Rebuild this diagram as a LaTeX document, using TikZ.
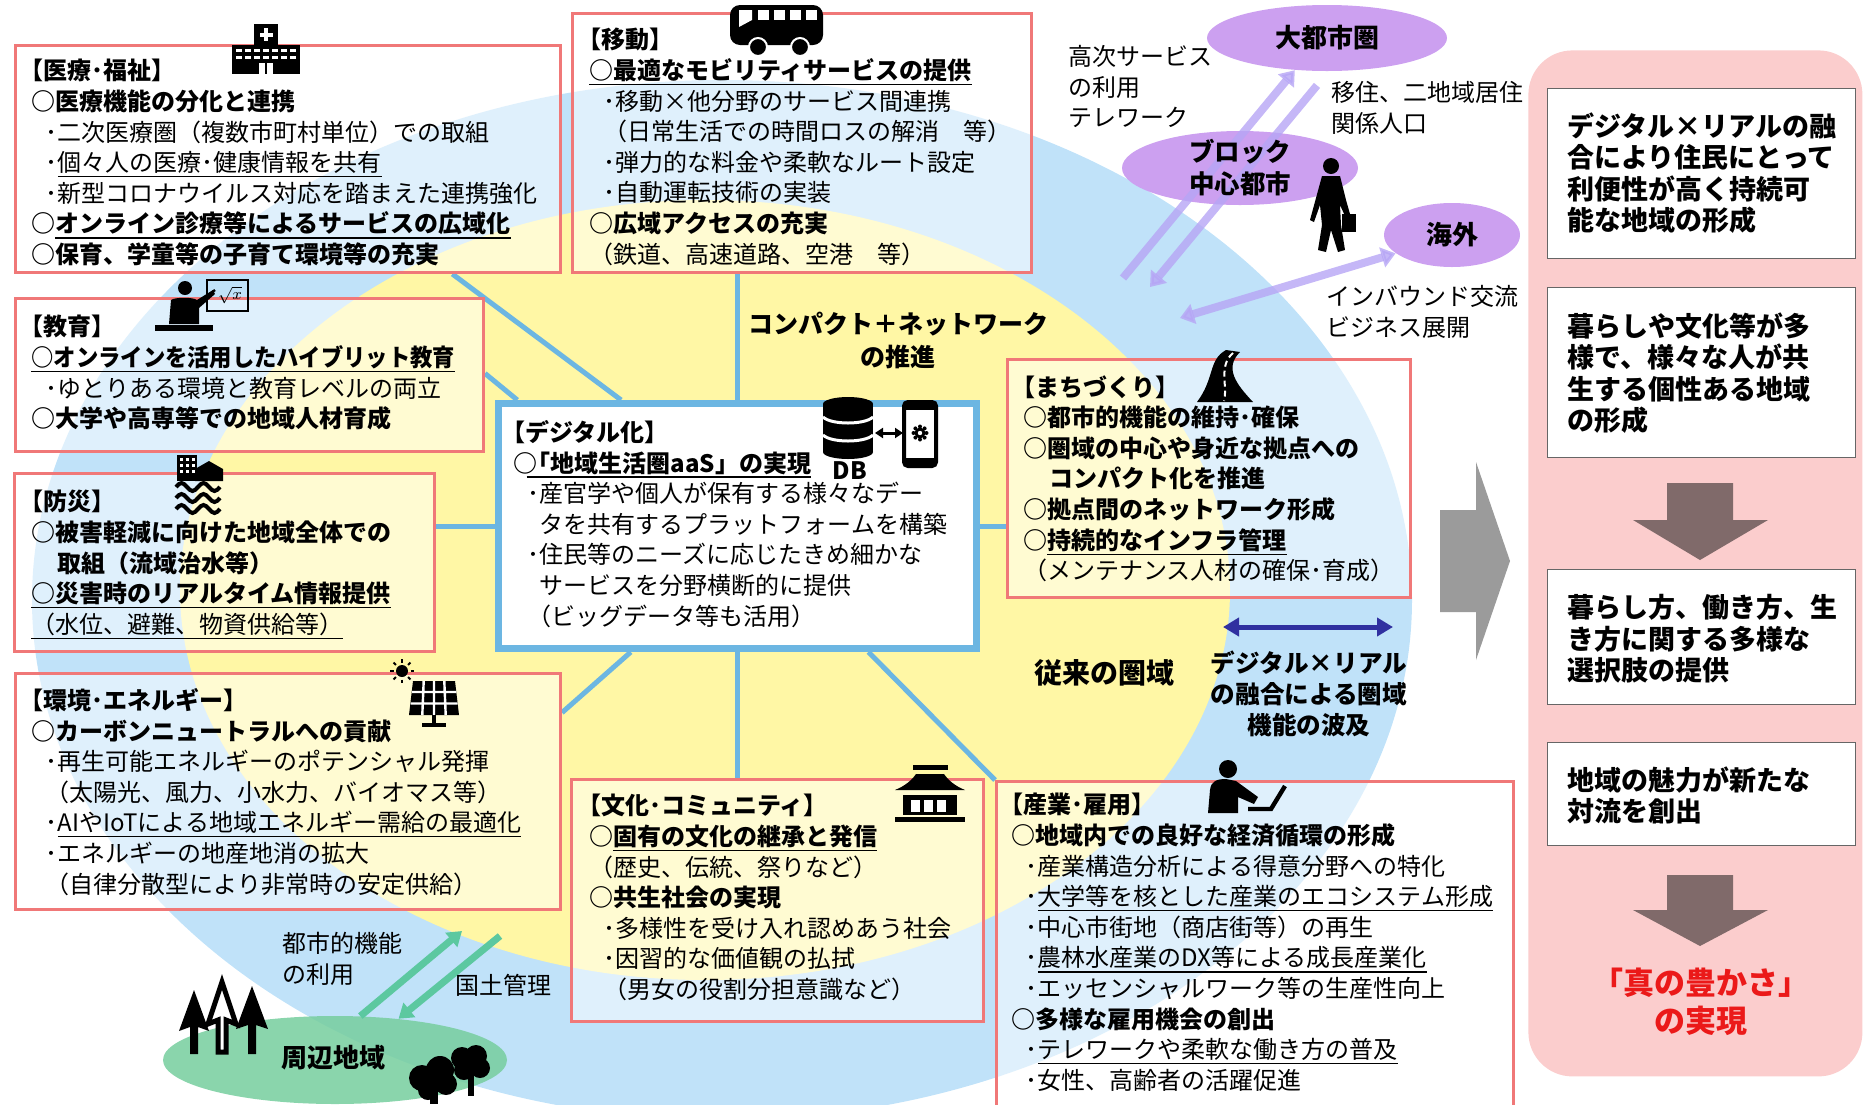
\documentclass[tikz,border=0pt]{standalone}
\usepackage{fontspec}
\setmainfont{Noto Sans CJK JP}
\usetikzlibrary{arrows.meta,calc,positioning,shapes.geometric}

\definecolor{ringblue}{RGB}{192,226,249}
\definecolor{coreyellow}{RGB}{255,247,165}
\definecolor{boxred}{RGB}{240,120,120}
\definecolor{linkblue}{RGB}{108,182,226}
\definecolor{cityviolet}{RGB}{204,160,240}
\definecolor{flowviolet}{RGB}{182,165,245}
\definecolor{fieldgreen}{RGB}{118,206,158}
\definecolor{flowgreen}{RGB}{92,200,160}
\definecolor{panelpink}{RGB}{251,205,205}
\definecolor{goalred}{RGB}{235,25,25}
\definecolor{spanblue}{RGB}{48,48,160}
\definecolor{stepgray}{RGB}{128,106,106}
\definecolor{bigarrowgray}{RGB}{155,155,155}

\newcommand{\boxfont}{\fontsize{12pt}{15.3pt}\selectfont}
\newcommand{\sidefont}{\fontsize{13.5pt}{15.75pt}\selectfont}
\newcommand{\bul}{\hspace*{0.6em}･}
\newcommand{\cont}{\hspace*{1.1em}}
\newcommand{\udl}[1]{\setbox0=\hbox{#1}\rlap{\rule[-2.8pt]{\wd0}{0.6pt}}\box0}

\pgfdeclarelayer{back}
\pgfsetlayers{back,main}

\tikzset{
  themebox/.style={draw=boxred, line width=1.5pt, fill=white, fill opacity=0.5, anchor=north west, inner sep=0pt},
  hubbox/.style={draw=linkblue, line width=3.5pt, fill=white, anchor=north west, inner sep=0pt},
  boxtext/.style={anchor=north west, inner sep=0pt, align=left, font=\boxfont},
  sidebox/.style={draw=black!60, line width=0.7pt, fill=white, anchor=north west, inner sep=0pt, minimum width=154pt},
  sidetext/.style={anchor=north west, inner sep=0pt, align=left, font=\sidefont\bfseries},
  link/.style={draw=linkblue, line width=2.5pt},
  city/.style={ellipse, fill=cityviolet, inner sep=0pt},
  citylabel/.style={inner sep=0pt, align=center, font=\bfseries\fontsize{13pt}{16pt}\selectfont},
  flowtext/.style={inner sep=0pt, align=left, anchor=north west, font=\fontsize{12pt}{15.3pt}\selectfont},
  flow/.style={draw=flowviolet, draw opacity=0.8, fill opacity=0.8, line width=4pt, -{Triangle[width=10pt,length=7pt]}},
  flowboth/.style={flow, {Triangle[width=10pt,length=7pt]}-{Triangle[width=10pt,length=7pt]}},
  greenflow/.style={draw=flowgreen, line width=3.5pt, -{Triangle[width=9pt,length=7pt]}},
  span/.style={draw=spanblue, line width=2.5pt, {Triangle[width=9pt,length=8pt]}-{Triangle[width=9pt,length=8pt]}},
}

\begin{document}
\begin{tikzpicture}[x=0.5pt,y=-0.5pt]
\useasboundingbox (0,0) rectangle (1865,1104);

% theme boxes and the hub in the middle
\node[themebox, minimum width=272.5pt, minimum height=113.5pt] (iryo) at (14,44) {};
\node[themebox, minimum width=229.5pt, minimum height=129.5pt] (idou) at (571,12) {};
\node[themebox, minimum width=234pt, minimum height=76.5pt] (kyoiku) at (14,297) {};
\node[themebox, minimum width=210pt, minimum height=89pt] (bousai) at (13,472) {};
\node[themebox, minimum width=272.5pt, minimum height=118pt] (kankyo) at (14,672) {};
\node[themebox, minimum width=206pt, minimum height=121pt] (bunka) at (570,778) {};
\node[themebox, minimum width=201.5pt, minimum height=119pt] (machi) at (1006,358) {};
\node[themebox, minimum width=258.5pt, minimum height=170pt] (sangyo) at (995,780) {};
\node[hubbox, minimum width=239pt, minimum height=122.5pt] (hub) at (495,400) {};

% rings, periphery and links
\begin{pgfonlayer}{back}
  \fill[ringblue] (722,600) ellipse (690 and 520);
  \fill[coreyellow] (705,590) ellipse (525 and 390);
  \draw[link] ($(iryo.south west)!0.80!(iryo.south east)$) -- ($(hub.north west)!0.26!(hub.north east)$);
  \draw[link] ($(kyoiku.north east)!0.49!(kyoiku.south east)$) -- ($(hub.north west)!0.046!(hub.north east)$);
  \draw[link] (hub.west) -- (hub.west -| bousai.east);
  \draw[link] (hub.north) -- (hub.north |- idou.south);
  \draw[link] (hub.east) -- (hub.east -| machi.west);
  \draw[link] ($(hub.south west)!0.28!(hub.south east)$) -- ($(kankyo.north east)!0.17!(kankyo.south east)$);
  \draw[link] (hub.south) -- (hub.south |- bunka.north);
  \draw[link] ($(hub.south west)!0.77!(hub.south east)$) -- (sangyo.north west);
\end{pgfonlayer}

\node[boxtext] (iryo-t) at ([shift={(17,15)}]iryo.north west) {%
  \textbf{\hspace*{-0.5em}【医療･福祉】}\\
  \textbf{○医療機能の分化と連携}\\
  \bul 二次医療圏（複数市町村単位）での取組\\
  \bul\udl{個々人の医療･健康情報を共有}\\
  \bul 新型コロナウイルス対応を踏まえた連携強化\\
  \textbf{○\udl{オンライン診療等によるサービスの広域化}}\\
  \textbf{○保育、学童等の子育て環境等の充実}};
\node[boxtext] (idou-t) at ([shift={(18,16)}]idou.north west) {%
  \textbf{\hspace*{-0.5em}【移動】}\\
  \textbf{\udl{○最適なモビリティサービスの提供}}\\
  \bul 移動×他分野のサービス間連携\\
  \hspace*{0.6em}（日常生活での時間ロスの解消　等）\\
  \bul 弾力的な料金や柔軟なルート設定\\
  \bul 自動運転技術の実装\\
  \textbf{○広域アクセスの充実}\\
  （鉄道、高速道路、空港　等）};
\node[boxtext] (kyoiku-t) at ([shift={(17,18)}]kyoiku.north west) {%
  \textbf{\hspace*{-0.5em}【教育】}\\
  \textbf{\scalebox{0.93}[1]{\udl{○オンラインを活用したハイブリット教育}}}\\
  \bul ゆとりある環境と教育レベルの両立\\
  \textbf{○大学や高専等での地域人材育成}};
\node[boxtext] (bousai-t) at ([shift={(18,18)}]bousai.north west) {%
  \textbf{\hspace*{-0.5em}【防災】}\\
  \textbf{○被害軽減に向けた地域全体での}\\
  \textbf{\cont 取組（流域治水等）}\\
  \textbf{\udl{○災害時のリアルタイム情報提供}}\\
  \udl{（水位、避難、物資供給等）}};
\node[boxtext] (kankyo-t) at ([shift={(17,16)}]kankyo.north west) {%
  \textbf{\hspace*{-0.5em}【環境･エネルギー】}\\
  \textbf{○カーボンニュートラルへの貢献}\\
  \bul 再生可能エネルギーのポテンシャル発揮\\
  \hspace*{0.6em}（太陽光、風力、小水力、バイオマス等）\\
  \bul\udl{AIやIoTによる地域エネルギー需給の最適化}\\
  \bul エネルギーの地産地消の拡大\\
  \hspace*{0.6em}（自律分散型により非常時の安定供給）};
\node[boxtext] (bunka-t) at ([shift={(19,16)}]bunka.north west) {%
  \textbf{\hspace*{-0.5em}【文化･コミュニティ】}\\
  \textbf{○\udl{固有の文化の継承と発信}}\\
  （歴史、伝統、祭りなど）\\
  \textbf{○共生社会の実現}\\
  \bul 多様性を受け入れ認めあう社会\\
  \bul 因習的な価値観の払拭\\
  \hspace*{0.6em}（男女の役割分担意識など）};
\node[boxtext] (machi-t) at ([shift={(17,17)}]machi.north west) {%
  \textbf{\hspace*{-0.5em}【まちづくり】}\\
  \textbf{○都市的機能の維持･確保}\\
  \textbf{○圏域の中心や身近な拠点への}\\
  \textbf{\cont コンパクト化を推進}\\
  \textbf{○拠点間のネットワーク形成}\\
  \textbf{○\udl{持続的なインフラ管理}}\\
  （メンテナンス人材の確保･育成）};
\node[boxtext] (sangyo-t) at ([shift={(16,13)}]sangyo.north west) {%
  \textbf{\hspace*{-0.5em}【産業･雇用】}\\
  \textbf{○地域内での良好な経済循環の形成}\\
  \bul 産業構造分析による得意分野への特化\\
  \bul\udl{大学等を核とした産業のエコシステム形成}\\
  \bul 中心市街地（商店街等）の再生\\
  \bul\udl{農林水産業のDX等による成長産業化}\\
  \bul エッセンシャルワーク等の生産性向上\\
  \textbf{○多様な雇用機会の創出}\\
  \bul\udl{テレワークや柔軟な働き方の普及}\\
  \bul 女性、高齢者の活躍促進};
\node[boxtext] (hub-t) at ([shift={(18,20)}]hub.north west) {%
  \textbf{\hspace*{-0.5em}【デジタル化】}\\
  \textbf{○\hspace*{-0.45em}\udl{「地域生活圏aaS」の実現}}\\
  \bul 産官学や個人が保有する様々なデー\\
  \cont タを共有するプラットフォームを構築\\
  \bul 住民等のニーズに応じたきめ細かな\\
  \cont サービスを分野横断的に提供\\
  \hspace*{0.6em}（ビッグデータ等も活用）};

% ring captions
\node[align=center, inner sep=0pt, anchor=north, font=\bfseries\fontsize{12.5pt}{16.5pt}\selectfont] (compact) at (898,312) {コンパクト＋ネットワーク\\の推進};
\node[inner sep=0pt, font=\bfseries\fontsize{14pt}{16pt}\selectfont] (oldarea) at (1104,673) {従来の圏域};
\node[align=center, inner sep=0pt, anchor=north, font=\bfseries\fontsize{12.3pt}{15.7pt}\selectfont] (spread) at (1309,650) {デジタル×リアル\\の融合による圏域\\機能の波及};
\coordinate (spanL) at (1223,627);
\coordinate (spanR) at (1393,627);
\draw[span] (spanL) -- (spanR);

% cities outside the ring
\node[city, minimum width=120pt, minimum height=33pt] (metro) at (1327,38) {};
\node[city, minimum width=118pt, minimum height=37pt] (block) at (1240,168) {};
\node[city, minimum width=68pt, minimum height=32pt] (abroad) at (1452,235) {};
\coordinate (upfoot) at (1123,278);
\coordinate (downfoot) at (1150,287);
\coordinate (inboundfoot) at (1180,318);
\draw[flow] (upfoot) -- (metro.225);
\draw[flow] ([shift={(-10,14)}]metro.south) -- (downfoot);
\draw[flowboth] (inboundfoot) -- (abroad.198);
\node[citylabel] (metro-t) at (metro) {大都市圏};
\node[citylabel, font=\bfseries\fontsize{12.75pt}{16pt}\selectfont] (block-t) at (block) {ブロック\\中心都市};
\node[citylabel] (abroad-t) at (abroad) {海外};
\node[flowtext] (service) at (1068,45) {高次サービス\\の利用\\テレワーク};
\node[flowtext] (migrate) at (1331,81) {移住、二地域居住\\関係人口};
\node[flowtext] (inbound) at (1326,285) {インバウンド交流\\ビジネス展開};

% periphery
\node[ellipse, fill=fieldgreen, fill opacity=0.85, minimum width=172pt, minimum height=44pt, inner sep=0pt] (field) at (335,1060) {};
\node[citylabel] (field-t) at (333,1058) {周辺地域};
\coordinate (useup) at (462,931);
\coordinate (keepfrom) at (500,936);
\draw[greenflow] (field.60) -- (useup);
\draw[greenflow] (keepfrom) -- (field.33);
\node[flowtext] (urbanuse) at (282,932) {都市的機能\\の利用};
\node[flowtext, anchor=west] (landcare) at (455,985) {国土管理};

% big arrow to the goals
\fill[bigarrowgray] (1440,510) -- (1476,510) -- (1476,462) -- (1510,561) -- (1476,660) -- (1476,612) -- (1440,612) -- cycle;

% goal panel
\node[fill=panelpink, rounded corners=22pt, anchor=north west, inner sep=0pt, minimum width=167pt, minimum height=513pt] (goals) at (1528,50) {};
\node[sidebox, minimum height=85pt] (goal-a) at (1547,88) {};
\node[sidebox, minimum height=85pt] (goal-b) at (1547,287) {};
\node[sidebox, minimum height=67.5pt] (goal-c) at (1547,569) {};
\node[sidebox, minimum height=51.5pt] (goal-d) at (1547,742) {};
\node[sidetext] (goal-a-t) at ([shift={(20,24)}]goal-a.north west) {デジタル×リアルの融\\合により住民にとって\\利便性が高く持続可\\能な地域の形成};
\node[sidetext] (goal-b-t) at ([shift={(20,25)}]goal-b.north west) {暮らしや文化等が多\\様で、様々な人が共\\生する個性ある地域\\の形成};
\node[sidetext] (goal-c-t) at ([shift={(20,25)}]goal-c.north west) {暮らし方、働き方、生\\き方に関する多様な\\選択肢の提供};
\node[sidetext] (goal-d-t) at ([shift={(20,24)}]goal-d.north west) {地域の魅力が新たな\\対流を創出};
\fill[stepgray] (1667,483) -- (1733,483) -- (1733,520) -- (1768,520) -- (1700,560) -- (1633,520) -- (1667,520) -- cycle;
\fill[stepgray] (1667,875) -- (1733,875) -- (1733,910) -- (1768,910) -- (1700,946) -- (1633,910) -- (1667,910) -- cycle;
\node[align=center, inner sep=0pt, text=goalred, font=\bfseries\fontsize{15.5pt}{19pt}\selectfont] (goal) at (1701,1002) {「真の豊かさ」\\の実現};

% icons: hospital
\begin{scope}[shift={(232,24)}]
  \fill (22,0) rectangle (46,22);
  \fill (0,21) rectangle (68,50);
  \fill[white] (32,4) rectangle (36,17);
  \fill[white] (27.5,8.5) rectangle (40.5,12.5);
  \foreach \wx in {4,13,22,31,40,49,58}{
    \fill[white] (\wx,25) rectangle ++(6,3);
    \fill[white] (\wx,32) rectangle ++(6,3);
  }
  \fill[white] (27,39) rectangle (41,50);
  \fill (33.3,39) rectangle (34.7,50);
\end{scope}
% bus
\begin{scope}[shift={(730,5)}]
  \fill[rounded corners=5pt] (0,0) rectangle (93,40);
  \foreach \wx in {28,44,60,76} \fill[white] (\wx,5) rectangle ++(11,10);
  \fill[white] (9,5) -- (22,5) -- (22,15) -- (9,22) -- cycle;
  \foreach \wx in {28,70} \filldraw[draw=white, line width=1pt] (\wx,42) circle (9);
\end{scope}
% teacher
\begin{scope}[shift={(153,278)}]
  \draw[line width=1.3pt] (54,2) rectangle (95,33);
  \node[font=\fontsize{8pt}{8pt}\selectfont, inner sep=0pt] (rootsign) at (77,17) {$\sqrt{x}$};
  \fill (32,10) circle (7);
  \fill (18,22) .. controls (22,19) and (40,19) .. (44,22) -- (60,12) -- (62,16) -- (46,30) -- (46,46) -- (16,46) -- cycle;
  \draw[line width=1.2pt] (52,20) -- (62,12);
  \fill (2,47) rectangle (60,53);
\end{scope}
% flood
\begin{scope}[shift={(173,455)}]
  \fill (4,0) rectangle (24,26);
  \foreach \wx in {7,13,19} \foreach \wy in {3,9,15} \fill[white] (\wx,\wy) rectangle ++(3,3);
  \fill (22,26) -- (22,14) -- (36,6) -- (50,14) -- (50,26) -- cycle;
  \foreach \wy in {32,43,54}
    \draw[line width=2pt] (3,\wy) sin (8.5,\wy-4) cos (14,\wy) sin (19.5,\wy+4) cos (25,\wy) sin (30.5,\wy-4) cos (36,\wy) sin (41.5,\wy+4) cos (47,\wy);
\end{scope}
% solar panel
\begin{scope}[shift={(387,657)}]
  \fill (15,14) circle (6);
  \foreach \a in {0,45,...,315} \draw[line width=1pt] ($(15,14)+(\a:8.5)$) -- ($(15,14)+(\a:12)$);
  \fill (26,24) -- (68,24) -- (72,58) -- (22,58) -- cycle;
  \draw[white, line width=1.2pt] (25,35) -- (69.3,35) (23.7,46.5) -- (70.6,46.5)
     (36.7,24) -- (35.3,58) (47,24) -- (47,58) (57.3,24) -- (58.7,58);
  \fill (45,58) rectangle (49,67);
  \fill (35,66) rectangle (59,70);
\end{scope}
% database and phone
\begin{scope}[shift={(823,397)}]
  \fill (0,7) rectangle (50,55);
  \fill (25,7) ellipse (25 and 7);
  \fill (25,55) ellipse (25 and 7);
  \draw[white, line width=1.5pt] (0,20) .. controls (8,28) and (42,28) .. (50,20);
  \draw[white, line width=1.5pt] (0,38) .. controls (8,46) and (42,46) .. (50,38);
\end{scope}
\node[font=\bfseries\fontsize{12pt}{12pt}\selectfont, inner sep=0pt] (dbmark) at (850,471) {DB};
\draw[line width=2pt, rounded corners=2pt] (904,402) rectangle (936,466);
\fill (904,402) rectangle (936,410);
\fill (904,458) rectangle (936,466);
\fill (920,433) circle (5.5);
\foreach \a in {0,45,...,315} \fill ($(920,433)+(\a:6.5)$) circle (2);
\fill[white] (920,433) circle (2.2);
\draw[line width=1.5pt, {Triangle[width=5pt,length=4pt]}-{Triangle[width=5pt,length=4pt]}] (875,433) -- (903,433);
% road
\fill (1226,350) .. controls (1208,360) and (1215,378) .. (1197,402) -- (1253,402) .. controls (1236,384) and (1224,368) .. (1240,352) -- cycle;
\draw[white, line width=1pt, dash pattern=on 3pt off 2pt] (1233,353) .. controls (1218,366) and (1228,386) .. (1224,401);
% temple
\fill (913,765) rectangle (948,770);
\fill (895,790) .. controls (905,786) and (912,780) .. (916,774) -- (944,774) .. controls (948,780) and (955,786) .. (965,790) -- cycle;
\fill (903,795) rectangle (957,815);
\foreach \cx in {911,924,937} \fill[white] (\cx,800) rectangle ++(9,12);
\fill (895,817) rectangle (965,822);
% worker at a laptop
\fill (1228,769) circle (9);
\fill (1208,813) -- (1210,790) .. controls (1211,781) and (1217,779) .. (1226,779) -- (1236,781) -- (1258,797) -- (1254,804) -- (1238,797) -- (1238,813) -- cycle;
\draw[line width=2.2pt] (1248,809) -- (1271,809) -- (1285,786);
% walker with a bag
\fill (1331,166) circle (8);
\fill (1322,176) -- (1340,176) -- (1346,200) -- (1350,214) -- (1345,216) -- (1340,205) -- (1341,225) -- (1345,250) -- (1338,252) -- (1331,230) -- (1326,252) -- (1318,250) -- (1322,225) -- (1320,205) -- (1314,222) -- (1310,220) -- cycle;
\fill (1342,214) rectangle (1356,232);
% conifers
\fill (194,990) -- (209,1031) -- (198,1027) -- (198,1054) -- (190,1054) -- (190,1027) -- (179,1031) -- cycle;
\filldraw[fill=white, line width=2.5pt, line join=miter] (222,982) -- (236,1024) -- (226,1020) -- (226,1052) -- (218,1052) -- (218,1020) -- (208,1024) -- cycle;
\fill (252,986) -- (268,1029) -- (256,1025) -- (256,1054) -- (248,1054) -- (248,1025) -- (236,1029) -- cycle;
% broadleaf trees
\fill (430,1088) rectangle (438,1104);
\fill (468,1072) rectangle (474,1096);
\fill (422,1078) circle (13) (440,1070) circle (14) (446,1084) circle (11) (428,1090) circle (10);
\fill (462,1058) circle (11) (476,1056) circle (11) (480,1068) circle (10) (464,1070) circle (10);
\end{tikzpicture}
\end{document}
